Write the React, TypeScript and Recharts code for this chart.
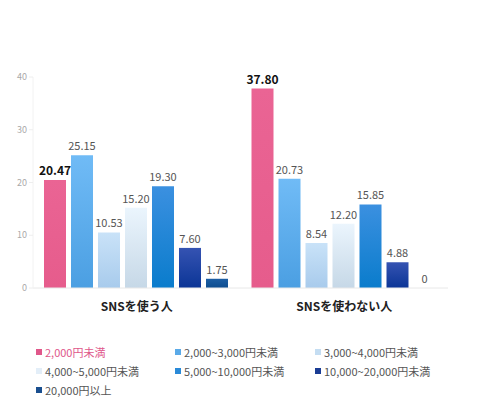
import { BarChart, Bar, XAxis, YAxis, LabelList, Cell } from "recharts";

const categories = ["SNSを使う人", "SNSを使わない人"];
const seriesNames = [
  "2,000円未満",
  "2,000~3,000円未満",
  "3,000~4,000円未満",
  "4,000~5,000円未満",
  "5,000~10,000円未満",
  "10,000~20,000円未満",
  "20,000円以上",
];
const snsUsers = [20.47, 25.15, 10.53, 15.2, 19.3, 7.6, 1.75];
const nonUsers = [37.8, 20.73, 8.54, 12.2, 15.85, 4.88, 0];
const yTicks = [0, 10, 20, 30, 40];

// top / bottom colour of each series
const gradients = [
  ["#ea6494", "#e65c8c"],
  ["#70bbf6", "#4b9fe2"],
  ["#c9e2f8", "#a8cbec"],
  ["#ebf5fd", "#c6d8e7"],
  ["#3b90e0", "#0a7ccc"],
  ["#3553b2", "#0b3596"],
  ["#1c5ea4", "#0d4c8e"],
];
const legendColors = ["#e0578a", "#5aaae8", "#c4ddf2", "#e3eef8", "#2a8ad8", "#1a3c94", "#1a4f8f"];

const font = "'Noto Sans CJK JP', 'Noto Sans', sans-serif";

const data = categories.map((name, ci) => {
  const vals = ci === 0 ? snsUsers : nonUsers;
  const row: Record<string, string | number> = { name };
  seriesNames.forEach((s, i) => {
    row["s" + i] = vals[i];
  });
  return row;
});

const fmt = (v: number) => (v === 0 ? "0" : Number(v).toFixed(2));

// custom label, placed above the bar's top edge
const makeLabel = (i: number) => (props: any) => {
  const { x, y, width, height, value } = props;
  if (value == null) return null;
  const top = Number(value) === 0 ? Number(y) + Number(height) : Number(y);
  return (
    <text
      x={Number(x) + Number(width) / 2}
      y={top - 5}
      textAnchor="middle"
      fontSize={i === 0 ? 12 : 11}
      fontWeight={i === 0 ? 700 : 400}
      fill={i === 0 ? "#111" : "#555"}
      fontFamily={font}
    >
      {fmt(Number(value))}
    </text>
  );
};

export default function App() {
  return (
    <div style={{ width: 467, fontFamily: font }}>
      <BarChart
        width={467}
        height={312}
        data={data}
        margin={{ top: 69, right: 27, bottom: 0, left: 0 }}
        barCategoryGap={11}
        barGap={5}
      >
        <defs>
          {gradients.map((g, i) => (
            <linearGradient key={i} id={"g" + i} x1="0" y1="0" x2="0" y2="1">
              <stop offset="0%" stopColor={g[0]} />
              <stop offset="100%" stopColor={g[1]} />
            </linearGradient>
          ))}
        </defs>
        <XAxis
          dataKey="name"
          height={32}
          tickLine={false}
          axisLine={{ stroke: "#e8e8e8" }}
          tickMargin={8}
          tick={{ fontSize: 12, fontWeight: 700, fill: "#222", fontFamily: font }}
        />
        <YAxis
          width={25}
          domain={[0, 40]}
          ticks={yTicks}
          tickSize={4}
          tickMargin={2}
          axisLine={{ stroke: "#f2f2f2" }}
          tickLine={{ stroke: "#eeeeee" }}
          tick={{ fontSize: 9, fill: "#aaa", fontFamily: font }}
        />
        {seriesNames.map((s, i) => (
          <Bar
            key={s}
            dataKey={"s" + i}
            name={s}
            fill={`url(#g${i})`}
            minPointSize={1}
            isAnimationActive={false}
          >
            {data.map((row, ri) => (
              <Cell key={ri} fill={row["s" + i] === 0 ? "transparent" : `url(#g${i})`} />
            ))}
            <LabelList dataKey={"s" + i} content={makeLabel(i)} />
          </Bar>
        ))}
      </BarChart>
      <div
        style={{
          display: "grid",
          gridTemplateColumns: "139px 140px 140px",
          paddingLeft: 28,
          paddingTop: 23,
          rowGap: 1,
          fontSize: 11,
        }}
      >
        {seriesNames.map((s, i) => (
          <div
            key={s}
            style={{
              display: "flex",
              alignItems: "center",
              height: 18,
              color: i === 0 ? "#e0578a" : "#555",
            }}
          >
            <span
              style={{
                display: "inline-block",
                width: 6,
                height: 6,
                background: legendColors[i],
                marginRight: 3,
              }}
            />
            {s}
          </div>
        ))}
      </div>
    </div>
  );
}
